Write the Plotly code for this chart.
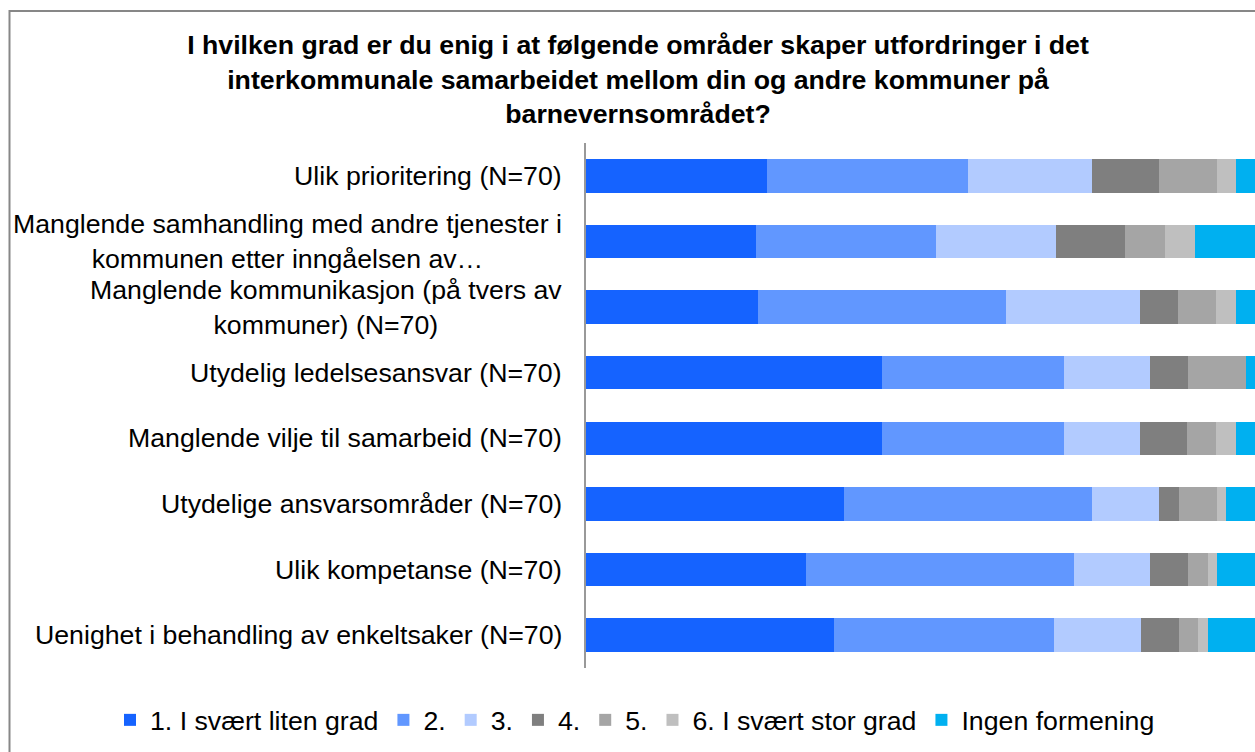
import plotly.graph_objects as go

categories = [
    "Ulik prioritering (N=70)",
    "Manglende samhandling med andre tjenester i<br>kommunen etter inngåelsen av…",
    "Manglende kommunikasjon (på tvers av<br>kommuner) (N=70)",
    "Utydelig ledelsesansvar (N=70)",
    "Manglende vilje til samarbeid (N=70)",
    "Utydelige ansvarsområder (N=70)",
    "Ulik kompetanse (N=70)",
    "Uenighet i behandling av enkeltsaker (N=70)",
]
series_names = ["1. I svært liten grad", "2.", "3.", "4.", "5.", "6. I svært stor grad", "Ingen formening"]

grad1 = [27.1, 25.4, 25.7, 44.3, 44.3, 38.6, 32.9, 37.1]
grad2 = [30.0, 26.9, 37.1, 27.1, 27.1, 37.1, 40.0, 32.9]
grad3 = [18.6, 17.9, 20.0, 12.9, 11.4, 10.0, 11.4, 12.9]
grad4 = [10.0, 10.4, 5.7, 5.7, 7.1, 2.9, 5.7, 5.7]
grad5 = [8.6, 6.0, 5.7, 8.6, 4.3, 5.7, 2.9, 2.9]
grad6 = [2.9, 4.5, 2.9, 0.0, 2.9, 1.4, 1.4, 1.4]
ingen = [2.9, 9.0, 2.9, 1.4, 2.9, 4.3, 5.7, 7.1]

colors = ["#1563FF", "#6197FF", "#B2CBFF", "#7F7F7F", "#A5A5A5", "#BFBFBF", "#00B0F0"]

title_text = ("<b>I hvilken grad er du enig i at følgende områder skaper utfordringer i det<br>"
              "interkommunale samarbeidet mellom din og andre kommuner på<br>"
              "barnevernsområdet?</b>")

FONT = "Liberation Sans, Arial, sans-serif"
FS = 26.7

fig = go.Figure()
for name, vals, col in zip(series_names, [grad1, grad2, grad3, grad4, grad5, grad6, ingen], colors):
    fig.add_trace(go.Bar(
        y=categories, x=vals, name=name, orientation="h",
        marker=dict(color=col, line=dict(width=0)),
    ))

# category labels (centered multi-line, right-anchored)
for cat in categories:
    fig.add_annotation(
        x=0, xref="paper", y=cat, yref="y", text=cat, showarrow=False,
        xanchor="right", yanchor="middle", align="center", xshift=-22,
        font=dict(family=FONT, size=FS, color="#000000"),
    )

W, H = 1255, 752
L, R, T, B = 586, 0, 143, 84
pw = W - L - R
ph = H - T - B

def px2x(px):
    return (px - L) / pw

def py2y(py):
    return (H - B - py) / ph

# outer chart frame (cropped)
fig.add_shape(type="rect", xref="paper", yref="paper",
              x0=px2x(9.5), x1=px2x(1400), y0=py2y(900), y1=py2y(11),
              line=dict(color="#878787", width=2), fillcolor="rgba(0,0,0,0)", layer="below")

fig.update_layout(
    width=W, height=H,
    margin=dict(l=L, r=R, t=T, b=B, pad=0, autoexpand=False),
    barmode="stack",
    bargap=0.49,
    plot_bgcolor="white", paper_bgcolor="white",
    font=dict(family=FONT, size=FS, color="#000000"),
    title=dict(text=title_text, x=638 / W, xref="container", xanchor="center",
               y=1 - 54 / H, yref="container", yanchor="top",
               font=dict(family=FONT, size=FS, color="#000000")),
    xaxis=dict(range=[0, 100], showticklabels=False, showgrid=False, zeroline=False,
               showline=False, ticks="", fixedrange=True),
    yaxis=dict(autorange="reversed", showticklabels=False, showgrid=False, zeroline=False,
               showline=True, linecolor="#999999", linewidth=2, ticks="", fixedrange=True),
    legend=dict(orientation="h", xref="paper", x=px2x(110), xanchor="left",
                yref="paper", y=py2y(720), yanchor="middle",
                font=dict(family=FONT, size=FS, color="#000000"), traceorder="normal",
                itemclick=False, bgcolor="rgba(0,0,0,0)"),
    showlegend=True,
)

fig.write_html("out.html", config={"displayModeBar": False},
               post_script="document.body.style.margin='0';")
